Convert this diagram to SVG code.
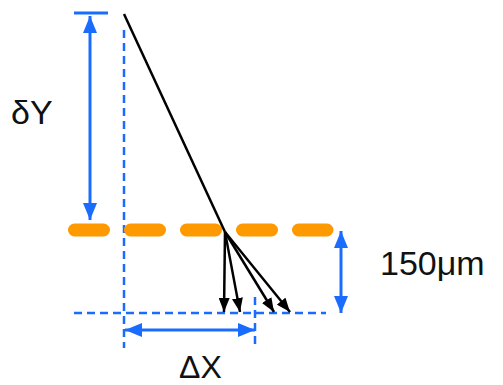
<svg xmlns="http://www.w3.org/2000/svg" width="503" height="385" viewBox="0 0 503 385">
<style>
.blue{stroke:#1a6cff;stroke-width:3;fill:none}
.bdash{stroke:#1a6cff;stroke-width:2.5;fill:none;stroke-dasharray:8 5}
.blk{stroke:#000;stroke-width:2.5;fill:none}
.lbl{font-family:"Liberation Sans",Arial,sans-serif;font-size:34px;fill:#111}
</style>
<defs>
<marker id="ba" markerUnits="userSpaceOnUse" markerWidth="17" markerHeight="14" refX="17" refY="7" orient="auto-start-reverse"><path d="M0,0 L17,7 L0,14 z" fill="#1a6cff"/></marker>
<marker id="ka" markerUnits="userSpaceOnUse" markerWidth="14" markerHeight="11" refX="14" refY="5.5" orient="auto"><path d="M0,0 L14,5.5 L0,11 z" fill="#000"/></marker>
</defs>
<g id="guides">
<line class="bdash" x1="124" y1="30" x2="124" y2="348"/>
<line class="bdash" x1="74" y1="313" x2="326" y2="313"/>
<line class="bdash" x1="255" y1="297" x2="255" y2="348"/>
<line x1="74.5" y1="230" x2="327" y2="230" stroke="#ff9900" stroke-width="13" stroke-linecap="round" stroke-dasharray="29 27"/>
</g>
<g id="connectors">
<line class="blue" x1="74" y1="13" x2="108" y2="13"/>
<line class="blue" x1="90" y1="16" x2="90" y2="220" marker-start="url(#ba)" marker-end="url(#ba)"/>
<line class="blue" x1="341" y1="231" x2="341" y2="313" marker-start="url(#ba)" marker-end="url(#ba)"/>
<line class="blue" x1="125" y1="330" x2="255" y2="330" marker-start="url(#ba)" marker-end="url(#ba)"/>
<line class="blk" x1="124" y1="14" x2="225" y2="232"/>
<line class="blk" x1="225" y1="232" x2="224" y2="312" marker-end="url(#ka)"/>
<line class="blk" x1="225" y1="232" x2="240" y2="312" marker-end="url(#ka)"/>
<line class="blk" x1="225" y1="232" x2="274" y2="312" marker-end="url(#ka)"/>
<line class="blk" x1="225" y1="232" x2="290" y2="312" marker-end="url(#ka)"/>
</g>
<g id="labels">
<text class="lbl" x="11" y="124">δY</text>
<text class="lbl" x="380" y="275">150μm</text>
<text class="lbl" x="179" y="378" style="font-size:32px">ΔX</text>
</g>
</svg>
